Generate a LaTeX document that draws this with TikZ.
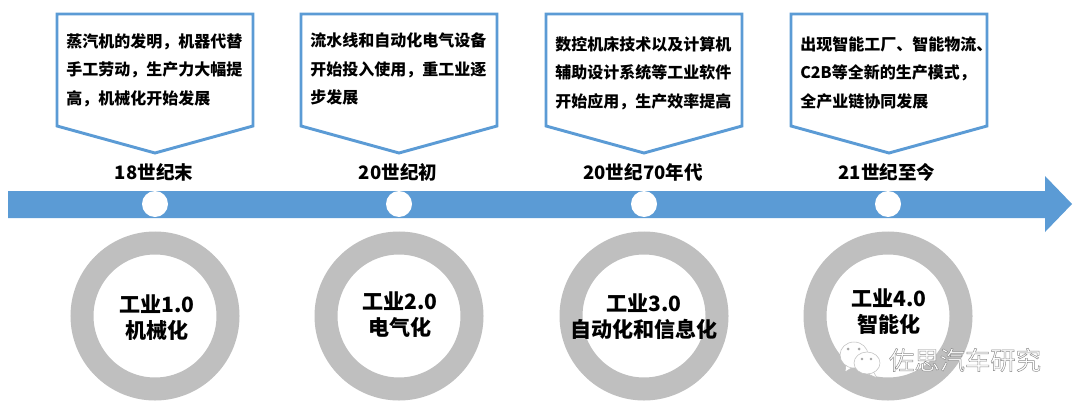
\documentclass[tikz,border=0pt]{standalone}
\usepackage{fontspec}
\setmainfont{Liberation Sans}
\newfontfamily\cjk{Noto Sans CJK SC}
\definecolor{bleu}{HTML}{5B9BD5}
\definecolor{gris}{HTML}{BFBFBF}
\newcommand\outl[1]{\special{pdf:code q 0.55 G 0.35 w 2 Tr}#1\special{pdf:code Q}}
\newcommand\dou{^^^^ff0c}
\tikzset{
  note/.style={font=\cjk\bfseries\fontsize{12}{21.5}\selectfont,align=left,anchor=north west,inner sep=0pt},
  era/.style={font=\cjk\bfseries\fontsize{13.9}{15}\selectfont,inner sep=0pt},
  stage/.style={font=\cjk\bfseries\fontsize{15.8}{19.5}\selectfont,align=center,inner sep=0pt},
  ring/.style={circle,draw=gris,line width=17.25pt,minimum size=109.5pt,inner sep=0pt},
  dot/.style={circle,fill=white,minimum size=19.5pt,inner sep=0pt},
  callout/.style={draw=bleu,line width=2.2pt,fill=white,line join=miter},
  bubble/.style={fill=white,draw=gray!50,line width=.4pt}
}
\begin{document}
\begin{tikzpicture}[x=.75pt,y=-.75pt]%
        \useasboundingbox (0,0) rectangle (1077,407);%%
        \fill[bleu] (8,191)--(1045,191)--(1045,176)--(1072,204)--(1045,232)--(1045,218)--(8,218)--cycle;%%
        \draw[callout] (57,14)--(253,14)--(253,126)--(155,153)--(57,126)--cycle;%%
        \draw[callout] (301,14)--(497,14)--(497,126)--(399,153)--(301,126)--cycle;%%
        \draw[callout] (546,14)--(742,14)--(742,126)--(644,153)--(546,126)--cycle;%%
        \draw[callout] (791,14)--(987,14)--(987,126)--(889,153)--(791,126)--cycle;%%
        \node[note] (t1) at (66,33)  {蒸汽机的发明\dou{}机器代替\\手工劳动\dou{}生产力大幅提\\高\dou{}机械化开始发展}; %%
        \node[note] (t2) at (310,32.5)  {流水线和自动化电气设备\\开始投入使用\dou{}重工业逐\\步发展}; %%
        \node[note] (t3) at (555,36)  {数控机床技术以及计算机\\辅助设计系统等工业软件\\开始应用\dou{}生产效率提高}; %%
        \node[note] (t4) at (800,36)  {出现智能工厂、智能物流、\\C2B等全新的生产模式\dou\\全产业链协同发展}; %%
        \node[era] (e1) at (154,172)  {18世纪末}; %%
        \node[era] (e2) at (398,172)  {20世纪初}; %%
        \node[era] (e3) at (643,172)  {20世纪70年代}; %%
        \node[era] (e4) at (887,172)  {21世纪至今}; %%
        \node[dot] (d1) at (155,204)  {}; %%
        \node[dot] (d2) at (399,204)  {}; %%
        \node[dot] (d3) at (644,204)  {}; %%
        \node[dot] (d4) at (888,204)  {}; %%
        \node[ring] (r1) at (155,316)  {}; %%
        \node[ring] (r2) at (399,316)  {}; %%
        \node[ring] (r3) at (644,316)  {}; %%
        \node[ring] (r4) at (888,316)  {}; %%
        \node[stage] (s1) at (157,318)  {工业1.0\\机械化}; %%
        \node[stage] (s2) at (400,314.5)  {工业2.0\\电气化}; %%
        \node[stage] (s3) at (644,316.5)  {工业3.0\\自动化和信息化}; %%
        \node[stage] (s4) at (889,311.5)  {工业4.0\\智能化}; %%
        % watermark
        \draw[bubble] (846,365)--(845,372)--(853,367)--cycle;%%
        \draw[bubble] (854,355) ellipse (14 and 13);%%
        \draw[bubble] (873,371)--(877,378)--(866,373)--cycle;%%
        \draw[bubble] (867,363) ellipse (13 and 11);%%
        \fill[gray!70] (848,349) circle (1.5) (859,349) circle (1.5) (862,359) circle (1.3) (871,359) circle (1.3);%%
        \node[font=\cjk\fontsize{19}{22}\selectfont,text=white,inner sep=0pt] (w0) at (965,360)  {\outl{佐思汽车研究}}; %%
\end{tikzpicture}
\end{document}
